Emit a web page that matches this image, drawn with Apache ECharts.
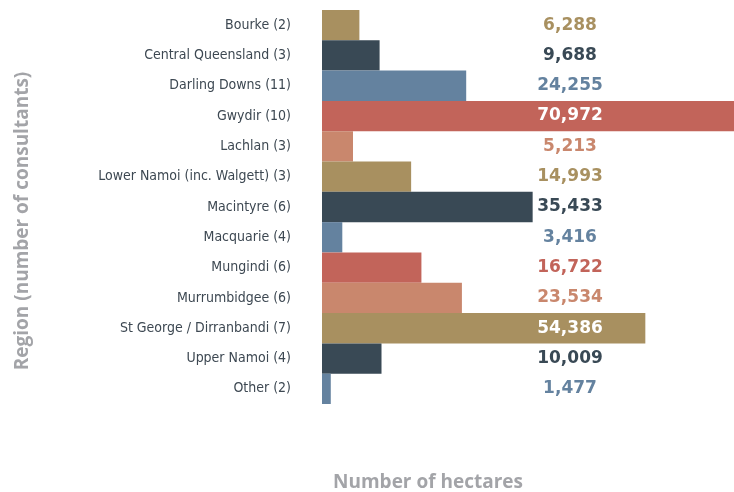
<!DOCTYPE html>
<html>
<head>
<meta charset="utf-8">
<script src="https://cdn.jsdelivr.net/npm/echarts@6/dist/echarts.min.js"></script>
<style>
html,body{margin:0;padding:0;background:#fff;}
#container{width:734px;height:492px;}
</style>
</head>
<body>
<div id="container"></div>
<script>
// regions (number of consultants) and hectares
var regions = ['Bourke (2)', 'Central Queensland (3)', 'Darling Downs (11)', 'Gwydir (10)', 'Lachlan (3)',
	'Lower Namoi (inc. Walgett) (3)', 'Macintyre (6)', 'Macquarie (4)', 'Mungindi (6)', 'Murrumbidgee (6)',
	'St George / Dirranbandi (7)', 'Upper Namoi (4)', 'Other (2)'];
var hectares = [6288, 9688, 24255, 70972, 5213, 14993, 35433, 3416, 16722, 23534, 54386, 10009, 1477];
var palette = ['#a89060', '#394955', '#64829f', '#c2645a', '#c9876d'];

var dom = document.getElementById("container");
var myChart = echarts.init(dom);

var xMax = 69300;
var labelOffset = 248; // px from bar start to label centre
var gridWidth = 412;

var data = hectares.map(function(v, i){
	var c = palette[i % palette.length];
	// label sits on the bar when the bar reaches past it
	var covered = v / xMax * gridWidth > labelOffset + 35;
	return {
		value: v,
		itemStyle: {color: c},
		label: {color: covered ? '#ffffff' : c}
	};
});

var option = {
	animation: false,
	grid: {left: 322, right: 0, top: 10, bottom: 88, containLabel: false},
	xAxis: {
		type: 'value',
		min: 0,
		max: xMax,
		show: false
	},
	yAxis: {
		type: 'category',
		data: regions,
		inverse: true,
		axisLine: {show: false},
		axisTick: {show: false},
		splitLine: {show: false},
		axisLabel: {
			margin: 31,
			color: '#3d4852',
			fontSize: 14,
			fontFamily: '"DejaVu Sans Condensed", "Liberation Sans Narrow", sans-serif'
		}
	},
	series: [{
		type: 'bar',
		data: data,
		barCategoryGap: 0,
		clip: true,
		label: {
			show: true,
			position: [labelOffset, '50%'],
			align: 'center',
			verticalAlign: 'middle',
			fontSize: 17,
			fontWeight: 'bold',
			fontFamily: '"DejaVu Sans", sans-serif',
			formatter: function(p){ return p.value.toLocaleString('en-US'); }
		}
	}],
	graphic: [{
		type: 'text',
		x: 23,
		y: 221,
		rotation: Math.PI / 2,
		style: {
			text: 'Region (number of consultants)',
			fill: '#a3a4a8',
			font: 'bold 19px "Open Sans", sans-serif',
			align: 'center',
			verticalAlign: 'middle'
		}
	}, {
		type: 'text',
		x: 428,
		y: 483,
		style: {
			text: 'Number of hectares',
			fill: '#a3a4a8',
			font: 'bold 19px "Open Sans", sans-serif',
			align: 'center',
			verticalAlign: 'middle'
		}
	}]
};
myChart.setOption(option, true);
</script>
</body>
</html>
